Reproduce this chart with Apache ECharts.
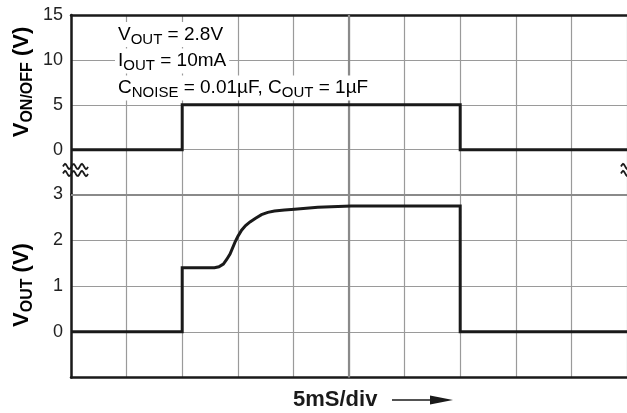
<!DOCTYPE html>
<html><head><meta charset="utf-8">
<script src="https://cdn.jsdelivr.net/npm/echarts@6/dist/echarts.min.js"></script>
<style>html,body{margin:0;padding:0;background:#fff}#c{width:627px;height:413px}</style>
</head><body><div id="c"></div>
<script>
// ---- data (time in ms, 5 ms/div) ----
const timeOnOff = [0, 10, 10, 35, 35, 50];
const vOnOff = [0, 0, 5, 5, 0, 0];
const timeOut = [0, 10, 10, 12.9, 13.3, 13.7, 14.0, 14.3, 14.75, 15.0, 15.34, 15.7, 16.1, 16.6, 17.13, 17.7, 18.3, 19.2, 20.1, 22.2, 25.2, 35, 35, 50];
const vOut = [0, 0, 1.40, 1.40, 1.42, 1.48, 1.58, 1.70, 1.96, 2.08, 2.22, 2.32, 2.40, 2.48, 2.56, 2.61, 2.64, 2.66, 2.68, 2.72, 2.75, 2.75, 0, 0];
const topTicks = [0, 5, 10, 15];
const bottomTicks = [0, 1, 2, 3];
const annotations = [
  '{m|V}{s|OUT}{m| = 2.8V}',
  '{m|I}{s|OUT}{m| = 10mA}',
  '{m|C}{s|NOISE}{m| = 0.01\u00B5F, C}{s|OUT}{m| = 1\u00B5F}'
];
const xLabel = '5mS/div';

// ---- layout ----
const FONT = "'Liberation Sans', Arial, Helvetica, sans-serif";
const L = 71, W = 561;
const T1 = 15, H1 = 179.5;
const T2 = 194.5, H2 = 183;
const GRID = '#9a9a9a';
const INK = '#1a1a1a';

const chart = echarts.init(document.getElementById('c'), null, {renderer: 'canvas'});

function xAx(gi, pos) {
  return {
    type: 'value', gridIndex: gi, min: 0, max: 50, interval: 5, position: pos,
    axisLine: {show: true, onZero: false, lineStyle: {color: INK, width: 2.5}},
    axisTick: {show: false}, axisLabel: {show: false},
    splitLine: {show: true, lineStyle: {color: GRID, width: 1.2}}
  };
}
function yAx(gi, min, max, interval, ticks) {
  return {
    type: 'value', gridIndex: gi, min: min, max: max, interval: interval,
    axisLine: {show: true, onZero: false, lineStyle: {color: INK, width: 2.5}},
    axisTick: {show: false},
    axisLabel: {
      margin: 8, color: '#222', fontSize: 18, fontFamily: FONT,
      formatter: v => ticks.indexOf(v) >= 0 ? String(v) : ''
    },
    splitLine: {show: true, lineStyle: {color: GRID, width: 1.2}}
  };
}

const refLine = {color: '#8a8a8a', width: 2.2, type: 'solid'};

function wave(x0, y0) {
  const pts = [];
  for (let i = 0; i <= 25; i++) pts.push([x0 + i, y0 - 2.6 * Math.sin(2 * Math.PI * i / 8.4)]);
  return pts;
}
const squiggles = [];
[[63, 166.5], [63, 173.5], [621, 166.5], [621, 173.5]].forEach(p => {
  squiggles.push({type: 'polyline', z: 100, shape: {points: wave(p[0], p[1])},
    style: {stroke: INK, lineWidth: 1.8, fill: null}});
});

const richMain = {fontSize: 19, fontFamily: FONT, color: '#1a1a1a', verticalAlign: 'middle'};
const richSub = {fontSize: 15, fontFamily: FONT, color: '#1a1a1a', verticalAlign: 'middle', padding: [10, 0, 0, 0]};
const annY = [34.5, 61, 88];
const annGraphics = annotations.map((txt, i) => ({
  type: 'text', z: 100, x: 115, y: annY[i],
  style: {text: txt, rich: {m: richMain, s: richSub}, align: 'left', verticalAlign: 'middle',
    backgroundColor: '#fff', padding: [0, 3, 0, 3]}
}));

const tMain = {fontSize: 22, fontWeight: 'bold', fontFamily: FONT, color: '#1a1a1a', verticalAlign: 'middle'};
const tSub = {fontSize: 16, fontWeight: 'bold', fontFamily: FONT, color: '#1a1a1a', verticalAlign: 'middle', padding: [11, 0, 0, 0]};

chart.setOption({
  animation: false,
  backgroundColor: '#fff',
  grid: [
    {left: L, top: T1, width: W, height: H1},
    {left: L, top: T2, width: W, height: H2}
  ],
  xAxis: [xAx(0, 'top'), xAx(1, 'bottom')],
  yAxis: [yAx(0, -5, 15, 5, topTicks), yAx(1, -1, 3, 1, bottomTicks)],
  series: [
    {type: 'line', xAxisIndex: 0, yAxisIndex: 0, z: 1, data: [], silent: true,
     markLine: {silent: true, symbol: 'none', label: {show: false}, lineStyle: refLine, data: [{xAxis: 25}]}},
    {type: 'line', xAxisIndex: 1, yAxisIndex: 1, z: 1, data: [], silent: true,
     markLine: {silent: true, symbol: 'none', label: {show: false}, lineStyle: refLine, data: [{xAxis: 25}, {yAxis: 3}]}},
    {type: 'line', xAxisIndex: 0, yAxisIndex: 0, z: 5, symbol: 'none', showSymbol: false,
     data: timeOnOff.map((t, i) => [t, vOnOff[i]]),
     lineStyle: {color: INK, width: 3, join: 'miter'}},
    {type: 'line', xAxisIndex: 1, yAxisIndex: 1, z: 5, symbol: 'none', showSymbol: false,
     data: timeOut.map((t, i) => [t, vOut[i]]),
     lineStyle: {color: INK, width: 3, join: 'miter'}}
  ],
  graphic: [
    ...annGraphics,
    {type: 'text', z: 100, x: 22, y: 82, rotation: Math.PI / 2,
     style: {text: '{m|V}{s|ON/OFF}{m| (V)}', rich: {m: tMain, s: tSub}, align: 'center', verticalAlign: 'middle'}},
    {type: 'text', z: 100, x: 22, y: 285, rotation: Math.PI / 2,
     style: {text: '{m|V}{s|OUT}{m| (V)}', rich: {m: tMain, s: tSub}, align: 'center', verticalAlign: 'middle'}},
    {type: 'text', z: 100, x: 293, y: 400,
     style: {text: xLabel, fontSize: 22, fontWeight: 'bold', fontFamily: FONT, fill: '#1a1a1a', align: 'left', verticalAlign: 'middle'}},
    {type: 'line', z: 100, shape: {x1: 392, y1: 400, x2: 440, y2: 400}, style: {stroke: INK, lineWidth: 1.5}},
    {type: 'polygon', z: 100, shape: {points: [[430, 395.5], [453, 400], [430, 404.5]]}, style: {fill: INK}},
    ...squiggles
  ]
});
</script></body></html>
